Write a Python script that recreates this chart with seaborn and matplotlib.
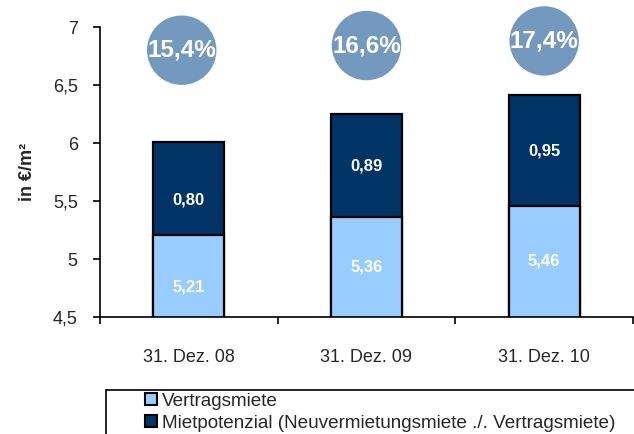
import matplotlib
matplotlib.use("Agg")
import matplotlib.pyplot as plt
import seaborn as sns
import pandas as pd
from matplotlib.patches import Patch
from matplotlib.lines import Line2D

sns.set_theme(style="white")
plt.rcParams['font.family'] = ['Liberation Sans', 'DejaVu Sans']

categories = ["31. Dez. 08", "31. Dez. 09", "31. Dez. 10"]
vertragsmiete = [5.21, 5.36, 5.46]
mietpotenzial = [0.80, 0.89, 0.95]
quote_labels = ["15,4%", "16,6%", "17,4%"]
y_ticks = [4.5, 5, 5.5, 6, 6.5, 7]
y_tick_labels = ["4,5", "5", "5,5", "6", "6,5", "7"]

light = "#99CCFF"
dark = "#003366"
circle_col = "#7399BF"

totals = [a + b for a, b in zip(vertragsmiete, mietpotenzial)]
df = pd.DataFrame({"cat": categories, "base": vertragsmiete, "pot": mietpotenzial, "total": totals})

fig = plt.figure(figsize=(6.34, 4.34), dpi=100)
ax = fig.add_axes([100/634, 1-317/434, 533/634, 290/434])

sns.barplot(data=df, x="cat", y="total", color=dark, width=0.4, edgecolor="black",
            linewidth=1.6, saturation=1, ax=ax)
sns.barplot(data=df, x="cat", y="base", color=light, width=0.4, edgecolor="black",
            linewidth=1.6, saturation=1, ax=ax)

ax.set_ylim(4.5, 7)
ax.set_xlim(-0.5, 2.5)
ax.set_yticks(y_ticks)
ax.set_yticklabels(y_tick_labels, fontsize=13)
ax.set_xticks(range(len(categories)))
ax.set_xticklabels(categories, fontsize=13)
ax.tick_params(axis="x", which="major", length=0, pad=23)
ax.set_xticks([-0.5, 0.5, 1.5, 2.5], minor=True)
ax.tick_params(axis="x", which="minor", length=5, width=1.2, color="black", direction="out", bottom=True)
ax.tick_params(axis="y", length=5, width=1.2, color="black", direction="out", left=True, pad=11)
for s in ["top", "right"]:
    ax.spines[s].set_visible(False)
for s in ["left", "bottom"]:
    ax.spines[s].set_color("black")
    ax.spines[s].set_linewidth(1.2)
ax.set_xlabel("")
ax.set_ylabel("in €/m²", fontsize=13, fontweight="bold", labelpad=12)

# value labels
label_dy = [-0.1, 0, 0]
for i, (b, p) in enumerate(zip(vertragsmiete, mietpotenzial)):
    ax.text(i, 4.5 + (b - 4.5) / 2 + label_dy[i], f"{b:.2f}".replace(".", ","), ha="center", va="center",
            color="white", fontsize=12, fontweight="bold")
    ax.text(i, b + p / 2 + label_dy[i], f"{p:.2f}".replace(".", ","), ha="center", va="center",
            color="white", fontsize=12, fontweight="bold")

# circles
circle_y = [6.80, 6.84, 6.88]
circle_dx = [-0.04, 0, 0]
circle_x = [i + d for i, d in enumerate(circle_dx)]
sns.scatterplot(x=circle_x, y=circle_y, s=2500, color=circle_col, edgecolor="none", ax=ax,
                legend=False, clip_on=False)
for cx, cy, lab in zip(circle_x, circle_y, quote_labels):
    ax.text(cx, cy, lab, ha="center", va="center", color="white",
            fontsize=17.5, fontweight="bold")

# legend
handles = [Patch(facecolor=light, edgecolor="black", linewidth=1.5),
           Patch(facecolor=dark, edgecolor="black", linewidth=1.5)]
labels = ["Vertragsmiete", "Mietpotenzial (Neuvermietungsmiete ./. Vertragsmiete)"]
fig.legend(handles, labels, loc="upper left", bbox_to_anchor=(142/634, 1-390/434),
           frameon=False, fontsize=13.6, handlelength=0.62, handleheight=0.62,
           handletextpad=0.3, labelspacing=0.25, borderpad=0.15, borderaxespad=0)
fig.add_artist(Line2D([106/634, 1.0], [1-390/434, 1-390/434], transform=fig.transFigure,
                      color="black", linewidth=1.2))
fig.add_artist(Line2D([106/634, 106/634], [1-390/434, 0], transform=fig.transFigure,
                      color="black", linewidth=1.2))

fig.savefig("out.png", dpi=100)
